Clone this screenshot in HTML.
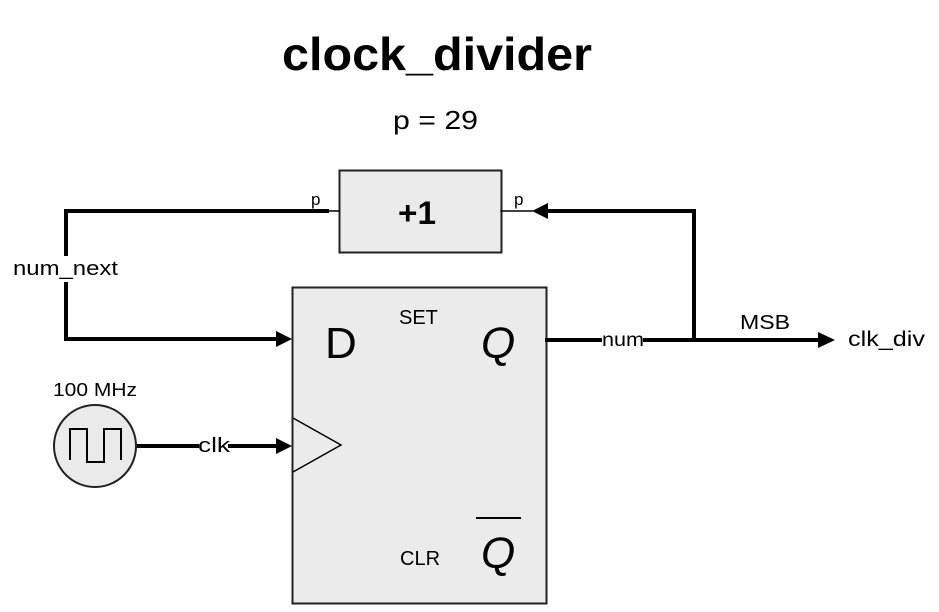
<!DOCTYPE html>
<html><head><style>body{margin:0;background:#fff}svg{display:block}text{font-family:"Liberation Sans",sans-serif;fill:#000}</style></head>
<body>
<svg width="939" height="612" viewBox="0 0 939 612" xmlns="http://www.w3.org/2000/svg">
<text x="282" y="70" font-size="46" font-weight="bold" textLength="310" lengthAdjust="spacingAndGlyphs">clock_divider</text>
<text x="393" y="129" font-size="26" textLength="85" lengthAdjust="spacingAndGlyphs">p = 29</text>
<rect x="339.5" y="170.5" width="162" height="82" fill="#ebebeb" stroke="#222" stroke-width="2"/>
<text x="398" y="224" font-size="32" font-weight="bold" textLength="38" lengthAdjust="spacingAndGlyphs">+1</text>
<rect x="292.5" y="287.5" width="254" height="316" fill="#ebebeb" stroke="#222" stroke-width="2"/>
<text x="325" y="358" font-size="44">D</text>
<text x="481" y="358" font-size="44" font-style="italic">Q</text>
<text x="399" y="324" font-size="20">SET</text>
<text x="400" y="565" font-size="20">CLR</text>
<text x="481" y="568" font-size="44" font-style="italic">Q</text>
<line x1="476" y1="518" x2="521" y2="518" stroke="#000" stroke-width="2"/>
<polyline points="293,418 341,445 293,472" fill="none" stroke="#000" stroke-width="1.5"/>
<g stroke="#000" stroke-linecap="square" fill="none">
<polyline points="327,211 66,211 66,254" stroke-width="4"/>
<polyline points="66,284 66,339 278,339" stroke-width="4"/>
<line x1="327" y1="211" x2="339" y2="211" stroke-width="1.5"/>
<line x1="501" y1="211" x2="532" y2="211" stroke-width="1.5"/>
<polyline points="545,211 694,211 694,340" stroke-width="4"/>
<line x1="547" y1="340" x2="600" y2="340" stroke-width="4"/>
<line x1="645" y1="340" x2="818" y2="340" stroke-width="4"/>
<line x1="136" y1="446" x2="197" y2="446" stroke-width="4"/>
<line x1="230" y1="446" x2="278" y2="446" stroke-width="4"/>
</g>
<polygon points="292,339 276,331 276,347" fill="#000"/>
<polygon points="532,211 548,203 548,219" fill="#000"/>
<polygon points="835,340 818,332 818,348" fill="#000"/>
<polygon points="292,446 276,438 276,454" fill="#000"/>
<text x="311" y="205" font-size="17">p</text>
<text x="514" y="205" font-size="17">p</text>
<text x="13" y="275" font-size="20" textLength="105" lengthAdjust="spacingAndGlyphs">num_next</text>
<text x="602" y="346" font-size="19" textLength="42" lengthAdjust="spacingAndGlyphs">num</text>
<text x="740" y="329" font-size="20" textLength="50" lengthAdjust="spacingAndGlyphs">MSB</text>
<text x="848" y="346" font-size="21" textLength="77" lengthAdjust="spacingAndGlyphs">clk_div</text>
<text x="198" y="452" font-size="20" textLength="32" lengthAdjust="spacingAndGlyphs">clk</text>
<text x="53" y="396" font-size="18" textLength="84" lengthAdjust="spacingAndGlyphs">100 MHz</text>
<circle cx="95" cy="446" r="41" fill="#ebebeb" stroke="#222" stroke-width="2"/>
<polyline points="70,460 70,429 87,429 87,462 104,462 104,429 121,429 121,460" fill="none" stroke="#000" stroke-width="2"/>
</svg>
</body></html>
